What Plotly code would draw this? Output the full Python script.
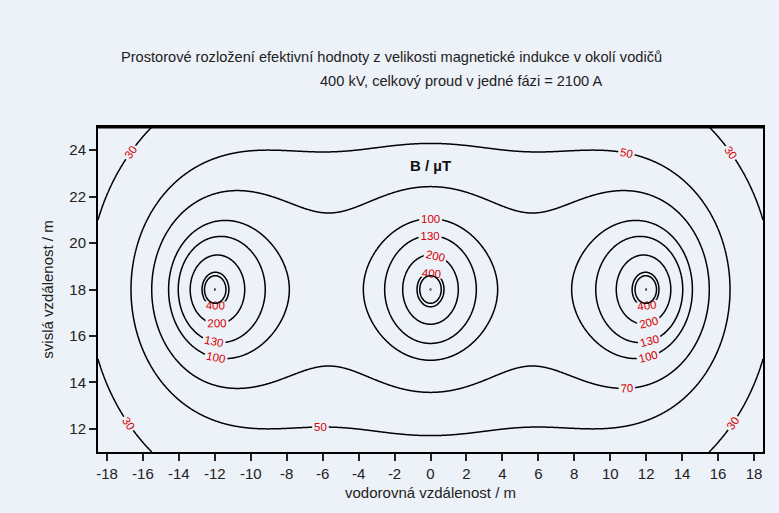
import numpy as np
import plotly.graph_objects as go

# Three-phase 400 kV line: conductor positions (m) and phase angles (deg)
conductor_x = [-12.0, 0.0, 12.0]
conductor_y = [18.0, 18.0, 18.0]
phase_deg = [0.0, -120.0, 120.0]
current_peak = 2100.0  # A, current in one phase

# Contour levels of the effective flux density (uT)
levels = [30, 50, 70, 100, 130, 200, 400, 500]

x_ticks = list(range(-18, 19, 2))
x_tick_text = [str(v) for v in x_ticks]
y_ticks = list(range(12, 25, 2))
y_tick_text = [str(v) for v in y_ticks]

# Evaluation grid
xs = np.linspace(-18.5, 18.5, 741)
ys = np.linspace(11.0, 25.0, 281)
X, Y = np.meshgrid(xs, ys)

mu0_2pi = 2e-7  # mu0 / (2 pi)
Bx = np.zeros_like(X, dtype=complex)
By = np.zeros_like(X, dtype=complex)
for xc, yc, ph in zip(conductor_x, conductor_y, phase_deg):
    i_rms = current_peak / np.sqrt(2) * np.exp(1j * np.deg2rad(ph))
    dx = X - xc
    dy = Y - yc
    r2 = np.maximum(dx ** 2 + dy ** 2, 1e-3)
    Bx += mu0_2pi * i_rms * (-dy) / r2
    By += mu0_2pi * i_rms * dx / r2
B = np.sqrt(np.abs(Bx) ** 2 + np.abs(By) ** 2) * 1e6  # uT
B = np.minimum(B, 3000)

bg = "#edf1f8"
fig = go.Figure()
for lvl in levels:
    fig.add_trace(go.Contour(
        x=xs, y=ys, z=B,
        contours=dict(start=lvl, end=lvl, size=1, coloring="none",
                      showlabels=True,
                      labelfont=dict(color="#d40000", size=11.5,
                                     family="Liberation Sans")),
        line=dict(color="black", width=1.5, smoothing=1),
        showscale=False, hoverinfo="skip",
    ))

fig.add_annotation(x=0, y=23.35, xref="x", yref="y", text="<b>B / \u00b5T</b>",
                   showarrow=False,
                   font=dict(size=15, color="#111111", family="Liberation Sans"))

# Two-line heading above the plot area
title_font = dict(size=14.6, color="#222222", family="Liberation Sans")
fig.add_annotation(x=(391 - 98) / 665, y=(452 - 47) / 325, xref="paper", yref="paper",
                   text="Prostorové rozložení efektivní hodnoty z velikosti magnetické indukce v okolí vodičů",
                   showarrow=False, font=title_font)
fig.add_annotation(x=(461 - 98) / 665, y=(452 - 71) / 325, xref="paper", yref="paper",
                   text="400 kV, celkový proud v jedné fázi = 2100 A",
                   showarrow=False, font=title_font)

# Heavier top edge of the frame
fig.add_shape(type="line", xref="paper", yref="paper", x0=0, x1=1, y0=1, y1=1,
              line=dict(color="black", width=3))

axis_font = dict(size=15, color="#222222", family="Liberation Sans")
fig.update_layout(
    width=779, height=513,
    margin=dict(l=98, r=16, t=127, b=61),
    paper_bgcolor=bg, plot_bgcolor=bg,
    showlegend=False,
    xaxis=dict(range=[-18.5, 18.5], tickvals=x_ticks, ticktext=x_tick_text,
               ticks="outside", ticklen=7, tickwidth=1.5, tickcolor="#222222",
               showline=True, linewidth=2, linecolor="black", mirror=True,
               showgrid=False, zeroline=False, tickfont=axis_font,
               title=dict(text="vodorovná vzdálenost / m", font=axis_font,
                          standoff=6)),
    yaxis=dict(range=[11, 25], tickvals=y_ticks, ticktext=y_tick_text,
               ticks="outside", ticklen=7, tickwidth=1.5, tickcolor="#222222",
               showline=True, linewidth=2, linecolor="black", mirror=True,
               showgrid=False, zeroline=False, tickfont=axis_font,
               title=dict(text="svislá vzdálenost / m", font=axis_font,
                          standoff=12)),
)
fig.write_html("out.html")
